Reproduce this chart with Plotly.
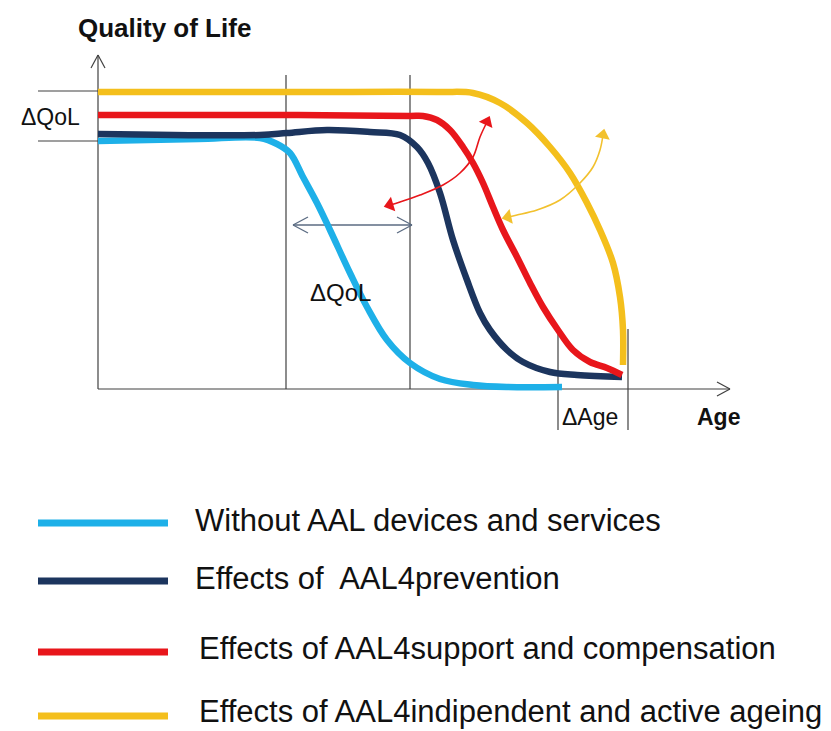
import numpy as np
import plotly.graph_objects as go

# ---- Data (Age on x, Quality of Life on y; diagram units) ----
blue_age = [0, 100, 162, 179, 192, 205, 219, 232, 252, 269, 289, 312, 342, 375, 409, 464]
blue_qol = [248, 250, 251, 245, 236, 212, 186, 159, 116, 82, 49, 26, 10, 4, 2, 2]

navy_age = [0, 162, 189, 229, 272, 302, 319, 330, 342, 355, 369, 382, 392, 409, 425, 452, 479, 524]
navy_qol = [255, 254, 256, 259, 257, 254, 242, 226, 196, 149, 109, 76, 59, 39, 27, 17, 14, 12]

red_age = [0, 200, 312, 325, 339, 352, 365, 375, 385, 395, 405, 419, 432, 445, 460, 475, 492, 509, 524]
red_qol = [274, 274, 273, 273, 269, 259, 242, 226, 206, 182, 159, 132, 106, 82, 59, 39, 27, 21, 14]

yellow_age = [0, 200, 342, 375, 402, 429, 452, 472, 489, 502, 515, 522, 525, 525]
yellow_qol = [297, 297, 297, 296, 286, 266, 242, 216, 186, 159, 126, 92, 59, 24]

red_arc_age = [389, 382, 375, 362, 345, 322, 302, 292]
red_arc_qol = [267, 252, 232, 216, 204, 194, 187, 184]

yel_arc_age = [505, 502, 495, 482, 462, 439, 419, 410]
yel_arc_qol = [254, 239, 222, 206, 189, 179, 174, 172]

marker_ages = [188, 312]          # vertical guide lines
dage_ages = [460, 530]            # ΔAge bracket
qol_levels = [298, 248]           # ΔQoL bracket on y axis
dqol_arrow = [195, 314]           # horizontal ΔQoL arrow span
dqol_arrow_level = 164

legend_labels = [
    "Without AAL devices and services",
    "Effects of  AAL4prevention",
    "Effects of AAL4support and compensation",
    "Effects of AAL4indipendent and active ageing",
]

COL_BLUE = "#1eb0e8"
COL_NAVY = "#1c355e"
COL_RED = "#e8161b"
COL_YEL = "#f4bf1c"
GUIDE = "#404040"
FONT = "Arial, Liberation Sans, sans-serif"

fig = go.Figure()

def curve(x, y, color, width=6.5):
    fig.add_trace(go.Scatter(x=x, y=y, mode="lines", hoverinfo="skip",
                             line=dict(color=color, width=width, shape="spline", smoothing=1.0),
                             showlegend=False))

shapes = []
def seg(x0, y0, x1, y1, color=GUIDE, w=1.2):
    shapes.append(dict(type="line", xref="x", yref="y", x0=x0, y0=y0, x1=x1, y1=y1,
                       line=dict(color=color, width=w), layer="below"))

# axes
seg(0, 0, 0, 334)
seg(0, 0, 632, 0)
seg(-7, 321, 0, 334); seg(7, 321, 0, 334)
seg(619, 7, 632, 0); seg(619, -7, 632, 0)
# vertical guide lines
for a in marker_ages:
    seg(a, 0, a, 314)
seg(dage_ages[0], -41, dage_ages[0], 57)
seg(dage_ages[1], -41, dage_ages[1], 60)
# left ΔQoL bracket ticks
for q in qol_levels:
    seg(-60, q, 0, q)
# horizontal double arrow
AC = "#5b6b82"
seg(dqol_arrow[0], dqol_arrow_level, dqol_arrow[1], dqol_arrow_level, AC, 1.3)
for end, d in ((dqol_arrow[0], 15), (dqol_arrow[1], -15)):
    seg(end, dqol_arrow_level, end + d, dqol_arrow_level + 8, AC, 1.3)
    seg(end, dqol_arrow_level, end + d, dqol_arrow_level - 8, AC, 1.3)

curve(blue_age, blue_qol, COL_BLUE)
curve(navy_age, navy_qol, COL_NAVY)
curve(red_age, red_qol, COL_RED)
curve(yellow_age, yellow_qol, COL_YEL)

def curved_arrow(x, y, color):
    fig.add_trace(go.Scatter(x=x, y=y, mode="lines", hoverinfo="skip",
                             line=dict(color=color, width=1.6, shape="spline"), showlegend=False))
    a1 = np.degrees(np.arctan2(x[0] - x[1], y[0] - y[1]))
    a2 = np.degrees(np.arctan2(x[-1] - x[-2], y[-1] - y[-2]))
    fig.add_trace(go.Scatter(x=[x[0], x[-1]], y=[y[0], y[-1]], mode="markers", hoverinfo="skip",
                             marker=dict(symbol="triangle-up", size=13, color=color,
                                         angle=[a1, a2], line=dict(width=0)),
                             showlegend=False))

curved_arrow(red_arc_age, red_arc_qol, COL_RED)
curved_arrow(yel_arc_age, yel_arc_qol, "#f2c12e")

# legend (custom)
leg_cols = [COL_BLUE, COL_NAVY, COL_RED, COL_YEL]
leg_line_q = [-134, -192, -263, -327]
leg_text_q = [-131, -189, -259, -322]
leg_text_x = [95, 95, 99, 99]
annotations = []
for lab, c, lq, tq, tx in zip(legend_labels, leg_cols, leg_line_q, leg_text_q, leg_text_x):
    fig.add_trace(go.Scatter(x=[-60, 70], y=[lq, lq], mode="lines", hoverinfo="skip",
                             line=dict(color=c, width=7), showlegend=False))
    annotations.append(dict(x=tx, y=tq, xref="x", yref="y", text=lab, showarrow=False,
                            xanchor="left", yanchor="middle",
                            font=dict(family=FONT, size=31, color="#111111")))

def label(x, y, t, size, bold=False):
    annotations.append(dict(x=x, y=y, xref="x", yref="y", showarrow=False,
                            text=f"<b>{t}</b>" if bold else t, xanchor="center", yanchor="middle",
                            font=dict(family=FONT, size=size, color="#111111")))

label(66, 361, "Quality of Life", 26, bold=True)
label(-48, 272, "ΔQoL", 23)
label(242, 97, "ΔQoL", 24)
label(492, -28, "ΔAge", 23)
label(620, -28, "Age", 23, bold=True)

# page body has an 8px margin; figure sized so that it fits the 831x731 window
fig.update_layout(
    width=823, height=723,
    margin=dict(l=0, r=0, t=0, b=0),
    paper_bgcolor="white", plot_bgcolor="white",
    xaxis=dict(range=[-90, 733], visible=False, fixedrange=True),
    yaxis=dict(range=[-342, 381], visible=False, fixedrange=True),
    shapes=shapes, annotations=annotations,
)

fig.write_html("out.html")
